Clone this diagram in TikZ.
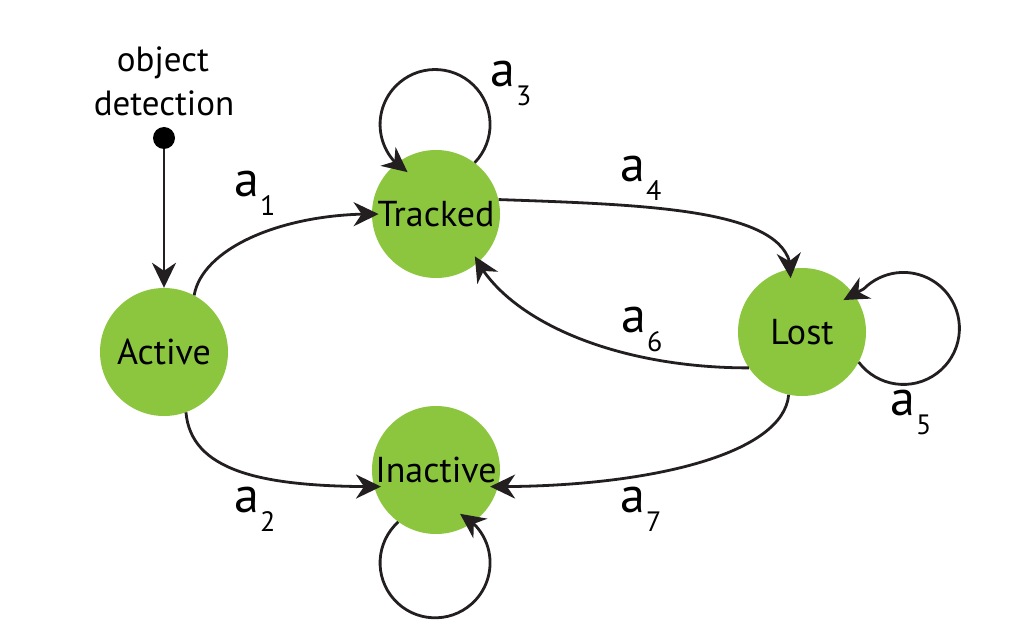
\documentclass[tikz,border=0pt]{standalone}
\usepackage{fontspec}
\setmainfont{PT Sans}
\usetikzlibrary{arrows.meta,bending}
\definecolor{stategreen}{HTML}{8CC63F}
\definecolor{ink}{HTML}{231F20}
% transition label: a with a lowered index
\newcommand{\translbl}[1]{{\fontsize{50}{50}\selectfont a}\kern1pt\raisebox{-19pt}{\fontsize{28}{28}\selectfont #1}}

\begin{document}
\begin{tikzpicture}[x=1pt,y=1pt,
  state/.style={circle, fill=stategreen, minimum size=128pt, inner sep=0pt,
    font=\fontsize{36}{36}\selectfont, text=black},
  edge/.style={draw=ink, line width=2.8pt,
    -{Stealth[length=25pt,width=24pt,inset=8pt]}},
  lbl/.style={anchor=base west, inner sep=0pt, text=black},
  caption/.style={anchor=base, inner sep=0pt, font=\fontsize{35}{35}\selectfont}]
\useasboundingbox (0,0) rectangle (1032,-636);

% states
\node[state] (A) at (164,-352) {Active};
\node[state] (T) at (436,-214) {Tracked};
\node[state] (L) at (802,-332) {Lost};
\node[state] (I) at (436,-470) {Inactive};

% entry point
\node[circle, fill=black, minimum size=22pt, inner sep=0pt] (src) at (164,-138) {};
\node[caption] (cap1) at (163,-72) {object};
\node[caption] (cap2) at (164,-116) {detection};

% transitions
\draw[edge] (src) -- (A);
\draw[edge, shorten >=-7pt] (A.62) .. controls +(80:48) and +(180:90) .. (T.180);
\draw[edge, shorten >=-7pt] (A.-70) .. controls +(-85:60) and +(180:110) .. (I.-165);
\draw[edge, shorten >=-9pt] (T.13) .. controls +(-2:150) and +(95:60) .. (L.100);
\draw[edge, shorten >=-7pt] (L.-146) .. controls +(180:130) and +(-60:70) .. (T.-49);
\draw[edge, shorten >=-8pt] (L.-102) .. controls +(-95:60) and +(0:150) .. (I.-15);

% self loops
\draw[edge] (T.53) arc[start angle=-44, end angle=240, radius=55];
\draw[edge, shorten >=-12pt] (L.-28) arc[start angle=217, end angle=495, radius=56] -- (L.36);
\draw[edge] (I.234) arc[start angle=132, end angle=423, radius=55];

% labels
\node[lbl] (l1) at (234,-197) {\translbl{1}};
\node[lbl] (l2) at (234,-512) {\translbl{2}};
\node[lbl] (l3) at (490,-87) {\translbl{3}};
\node[lbl] (l4) at (620,-182) {\translbl{4}};
\node[lbl] (l5) at (890,-415) {\translbl{5}};
\node[lbl] (l6) at (621,-332) {\translbl{6}};
\node[lbl] (l7) at (620,-512) {\translbl{7}};
\end{tikzpicture}
\end{document}
